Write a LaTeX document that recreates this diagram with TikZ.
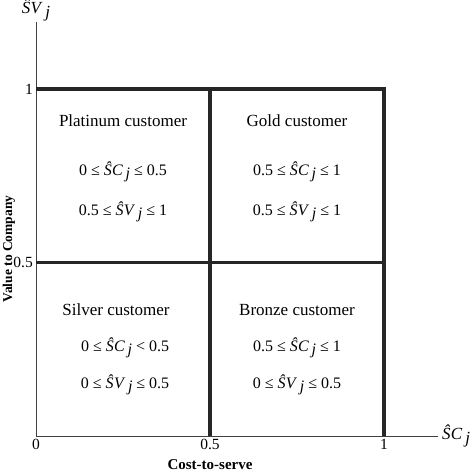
\documentclass[tikz,border=0pt]{standalone}
\usepackage{fontspec}
\setmainfont{Liberation Serif}
\usetikzlibrary{positioning}
\newcommand{\costj}{\textit{Ŝ\kern0.02em C}\,\raisebox{-0.5ex}{\textit{j}}}
\newcommand{\valj}{\textit{Ŝ\kern0.02em V}\,\raisebox{-0.5ex}{\textit{j}}}
\tikzset{
  axis/.style={line width=0.9pt, color=black!75},
  bound/.style={line width=3.2pt, color=black!85},
  segname/.style={font=\fontsize{17}{20}\selectfont},
  cond/.style={font=\fontsize{16}{19}\selectfont, inner sep=1pt},
  ticklab/.style={font=\fontsize{15.5}{18}\selectfont, inner sep=2pt},
  axtitle/.style={font=\bfseries\fontsize{15}{18}\selectfont, inner sep=1pt}
}
\begin{document}
\begin{tikzpicture}[x=348pt, y=347pt]
  \useasboundingbox (-36pt,-38pt) rectangle ++(474pt,474pt);
  % axes
  \coordinate (o) at (0,0);
  \coordinate (xend) at (1.155,0);
  \coordinate (yend) at (0,1.193);
  \draw[axis] (yend) -- (o) -- (xend);
  \node[ticklab, font=\fontsize{17}{20}\selectfont, above=-1pt of yend] (vlab) {\valj};
  \node[ticklab, font=\fontsize{17}{20}\selectfont, right=2pt of xend] (clab) {\costj};

  % segment boundaries
  \coordinate (y1) at (0,1);
  \coordinate (yh) at (0,0.5);
  \coordinate (xh) at (0.5,0);
  \coordinate (x1) at (1,0);
  \coordinate (c11) at (1,1);
  \coordinate (ch1) at (0.5,1);
  \coordinate (c1h) at (1,0.5);
  \draw[bound] (y1) -- (c11) -- (x1);
  \draw[bound] (yh) -- (c1h);
  \draw[bound] (ch1) -- (xh);

  % tick labels
  \node[ticklab, left=1pt of y1] (t1y) {1};
  \node[ticklab, left=1pt of yh] (thy) {0.5};
  \node[ticklab, below=1pt of o] (t0) {0};
  \node[ticklab, below=1pt of xh] (thx) {0.5};
  \node[ticklab, below=1pt of x1] (t1x) {1};

  % axis titles
  \node[axtitle] (cost) at (0.5,-0.082) {Cost-to-serve};
  \node[axtitle, rotate=90, font=\bfseries\fontsize{13.5}{16}\selectfont] (value) at (-0.078,0.539) {Value to Company};

  % platinum
  \node[segname] (plat) at (0.25,0.908) {Platinum customer};
  \node[cond] (platc) at (0.25,0.761) {0 ≤ \costj{} ≤ 0.5};
  \node[cond] (platv) at (0.25,0.646) {0.5 ≤ \valj{} ≤ 1};
  % gold
  \node[segname] (gold) at (0.75,0.908) {Gold customer};
  \node[cond] (goldc) at (0.75,0.761) {0.5 ≤ \costj{} ≤ 1};
  \node[cond] (goldv) at (0.75,0.646) {0.5 ≤ \valj{} ≤ 1};
  % silver
  \node[segname] (silv) at (0.23,0.363) {Silver customer};
  \node[cond] (silvc) at (0.256,0.254) {0 ≤ \costj{} < 0.5};
  \node[cond] (silvv) at (0.256,0.147) {0 ≤ \valj{} ≤ 0.5};
  % bronze
  \node[segname] (bron) at (0.75,0.363) {Bronze customer};
  \node[cond] (bronc) at (0.75,0.254) {0.5 ≤ \costj{} ≤ 1};
  \node[cond] (bronv) at (0.75,0.147) {0 ≤ \valj{} ≤ 0.5};
\end{tikzpicture}
\end{document}
